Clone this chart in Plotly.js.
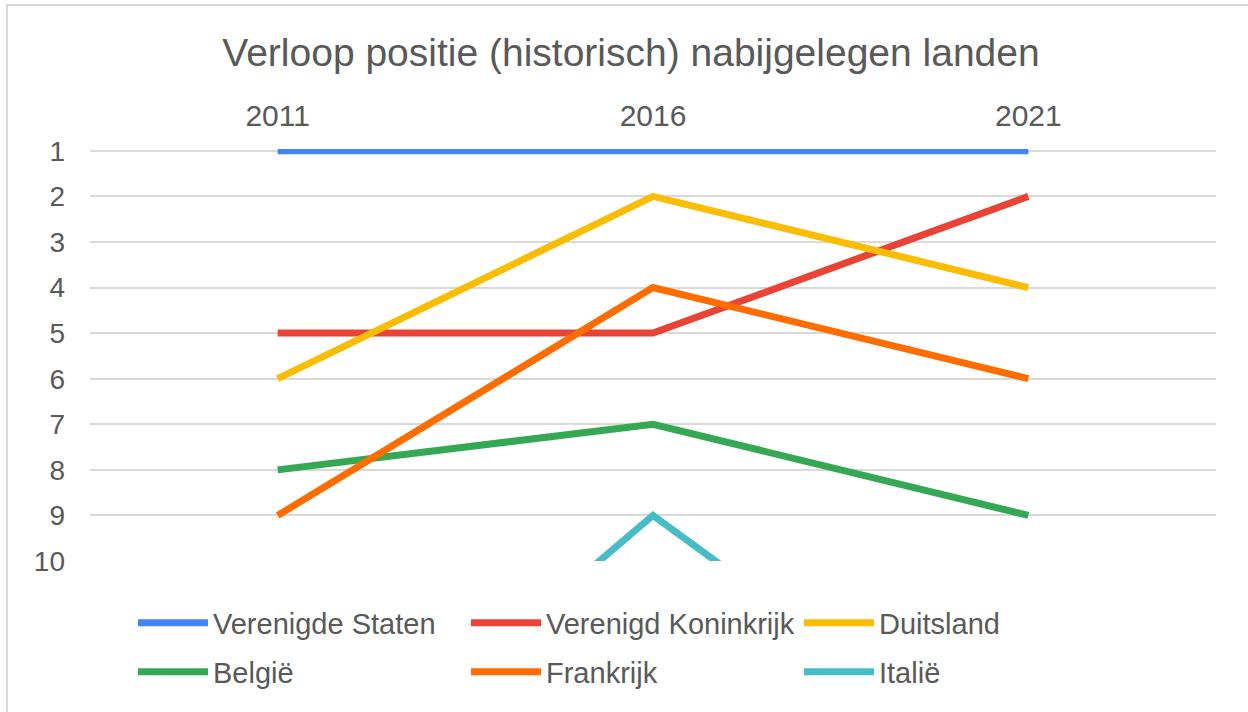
<!DOCTYPE html>
<html>
<head>
<meta charset="utf-8">
<script src="https://cdn.plot.ly/plotly-3.0.1.min.js"></script>
<style>
html,body{margin:0;padding:0;background:#fff;overflow:hidden;width:1248px;height:712px;}
#chart{width:1248px;height:712px;position:absolute;left:0;top:0;}
#frame{position:absolute;left:6px;top:4px;width:1400px;height:900px;border:2px solid #d9d9d9;pointer-events:none;}
</style>
</head>
<body>
<div id="chart"></div>
<div id="frame"></div>
<script>
const years = ["2011", "2016", "2021"];
const seriesNames = ["Verenigde Staten", "Verenigd Koninkrijk", "Duitsland", "België", "Frankrijk", "Italië"];
const verenigdeStaten = [1, 1, 1];
const verenigdKoninkrijk = [5, 5, 2];
const duitsland = [6, 2, 4];
const belgie = [8, 7, 9];
const frankrijk = [9, 4, 6];
const italie = [16, 9, 15];
const yTicks = [1, 2, 3, 4, 5, 6, 7, 8, 9, 10];

const seriesValues = [verenigdeStaten, verenigdKoninkrijk, duitsland, belgie, frankrijk, italie];
const colors = ["#4285F4", "#EA4335", "#FBBC04", "#34A853", "#FF6D01", "#46BDC6"];
const legendIds = ["legend", "legend", "legend", "legend2", "legend2", "legend2"];

const font = "Liberation Sans, Arial, sans-serif";
const textColor = "#595959";

const traces = seriesValues.map((vals, i) => ({
  type: "scatter",
  mode: "lines",
  x: years,
  y: vals,
  name: seriesNames[i],
  line: {color: colors[i], width: 7},
  legend: legendIds[i],
  hoverinfo: "x+y+name"
}));

const legendCommon = {
  orientation: "h",
  xref: "container",
  yref: "container",
  xanchor: "left",
  yanchor: "middle",
  font: {family: font, size: 29, color: textColor},
  itemwidth: 70,
  entrywidth: 248,
  entrywidthmode: "pixels",
  bgcolor: "rgba(0,0,0,0)",
  borderwidth: 0,
  traceorder: "normal",
  itemclick: false,
  itemdoubleclick: false
};

const layout = {
  width: 1248,
  height: 712,
  margin: {l: 90, r: 32, t: 149, b: 151, pad: 0},
  paper_bgcolor: "#ffffff",
  plot_bgcolor: "#ffffff",
  showlegend: true,
  title: {
    text: "Verloop positie (historisch) nabijgelegen landen",
    font: {family: font, size: 39, color: textColor},
    xref: "container", yref: "container",
    x: 631 / 1248, xanchor: "center",
    y: 1 - 52 / 712, yanchor: "middle"
  },
  xaxis: {
    type: "category",
    side: "top",
    range: [-0.5, 2.5],
    showgrid: false,
    zeroline: false,
    showline: false,
    ticks: "",
    ticklabelstandoff: 16,
    tickfont: {family: font, size: 30, color: textColor},
    fixedrange: true
  },
  yaxis: {
    range: [10, 0.96],
    tickvals: yTicks,
    ticktext: yTicks.map(String),
    showgrid: true,
    gridcolor: "#d9d9d9",
    gridwidth: 2,
    zeroline: false,
    showline: false,
    ticks: "",
    ticklabelstandoff: 24,
    tickfont: {family: font, size: 28, color: textColor},
    fixedrange: true
  },
  legend: Object.assign({}, legendCommon, {x: 133 / 1248, y: 1 - 623 / 712}),
  legend2: Object.assign({}, legendCommon, {x: 133 / 1248, y: 1 - 672 / 712})
};

Plotly.newPlot("chart", traces, layout, {displayModeBar: false, staticPlot: false, responsive: false});
</script>
</body>
</html>
